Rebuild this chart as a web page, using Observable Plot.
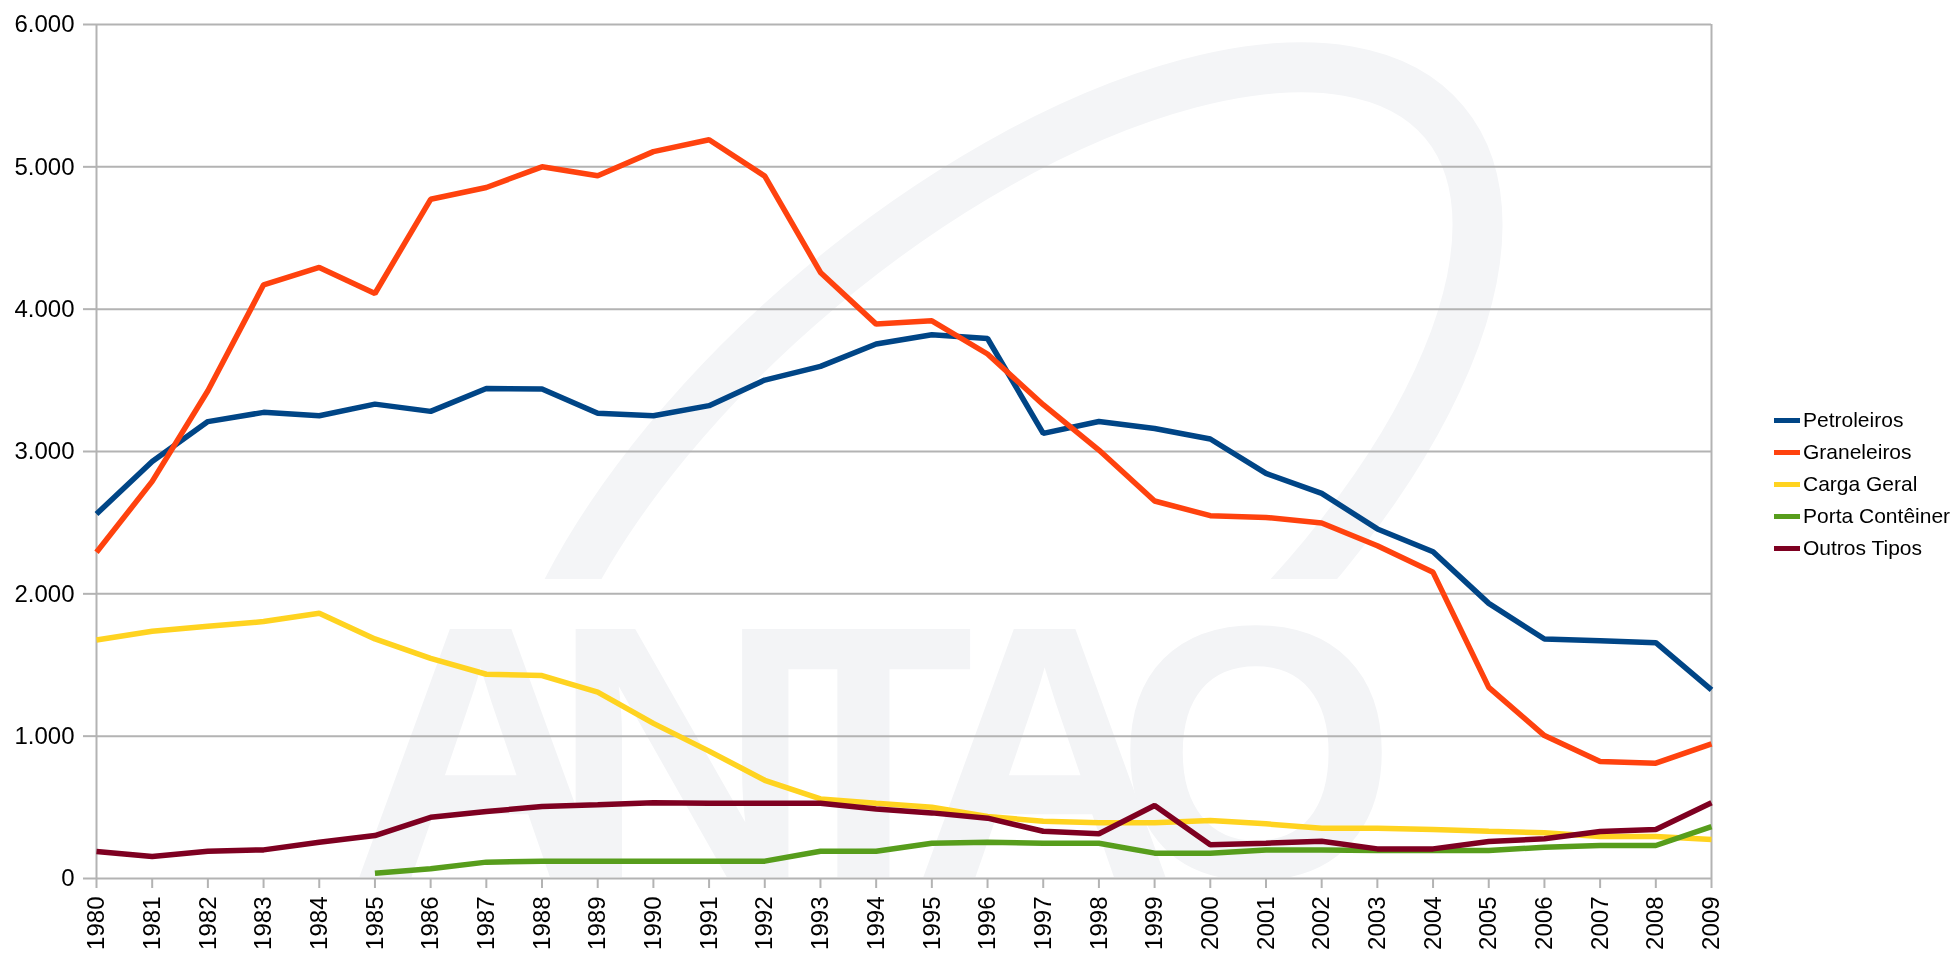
<!DOCTYPE html>
<html>
<head>
<meta charset="utf-8">
<script src="https://cdn.jsdelivr.net/npm/d3@7"></script>
<script src="https://cdn.jsdelivr.net/npm/@observablehq/plot@0.6"></script>
<style>
  html, body { margin: 0; padding: 0; background: #fff; }
  #wrap { position: relative; width: 1953px; height: 953px; overflow: hidden; font-family: "Liberation Sans", Arial, sans-serif; }
  #wm { position: absolute; left: 0; top: 0; z-index: 0; }
  #chart { position: absolute; left: 0; top: 0; z-index: 1; }
  #legend { position: absolute; left: 1774px; top: 404px; z-index: 2; font-size: 21px; color: #000; }
  .row { display: flex; align-items: center; height: 32px; white-space: nowrap; }
  .sw { width: 26px; height: 5px; margin-right: 3px; }
</style>
</head>
<body>
<div id="wrap">
  <canvas id="wm" width="1953" height="877"></canvas>
  <div id="chart"></div>
  <div id="legend"></div>
</div>
<script>
const years = [1980, 1981, 1982, 1983, 1984, 1985, 1986, 1987, 1988, 1989, 1990, 1991, 1992, 1993, 1994, 1995, 1996, 1997, 1998, 1999, 2000, 2001, 2002, 2003, 2004, 2005, 2006, 2007, 2008, 2009];
const seriesNames = ["Petroleiros", "Graneleiros", "Carga Geral", "Porta Contêiner", "Outros Tipos"];
const seriesColors = ["#004586", "#ff420e", "#ffd320", "#579d1c", "#7e0021"];
const yTicks = [0, 1000, 2000, 3000, 4000, 5000, 6000];

const petroleiros = [2561, 2930, 3210, 3275, 3251, 3333, 3282, 3443, 3439, 3268, 3251, 3322, 3502, 3598, 3755, 3820, 3794, 3127, 3211, 3162, 3088, 2846, 2706, 2456, 2296, 1933, 1683, 1671, 1657, 1325];
const graneleiros = [2292, 2790, 3427, 4171, 4293, 4110, 4772, 4855, 5000, 4937, 5107, 5190, 4935, 4258, 3895, 3918, 3685, 3329, 3010, 2652, 2549, 2537, 2498, 2338, 2151, 1343, 1004, 822, 810, 946];
const cargaGeral = [1676, 1737, 1772, 1805, 1863, 1683, 1547, 1435, 1426, 1309, 1090, 895, 690, 559, 529, 501, 435, 403, 391, 391, 407, 384, 353, 353, 344, 332, 321, 295, 295, 274];
const portaConteiner = [null, null, null, null, null, 37, 68, 115, 122, 122, 122, 122, 122, 192, 192, 248, 255, 248, 248, 178, 178, 201, 201, 197, 197, 197, 220, 232, 232, 365];
const outrosTipos = [190, 154, 192, 201, 255, 302, 430, 470, 506, 518, 532, 529, 529, 529, 489, 461, 424, 332, 314, 513, 237, 248, 262, 208, 208, 260, 279, 330, 344, 532];

const valuesBySeries = [petroleiros, graneleiros, cargaGeral, portaConteiner, outrosTipos];
const data = [];
seriesNames.forEach((name, i) => {
  years.forEach((yr, j) => {
    data.push({ series: name, year: yr, value: valuesBySeries[i][j] });
  });
});

// faint background logo (decorative bitmap, like the watermark image of the original)
(function drawWatermark() {
  const cv = document.getElementById("wm");
  const ctx = cv.getContext("2d");
  ctx.fillStyle = "#f3f4f6";
  ctx.strokeStyle = "#f4f5f7";
  ctx.save();
  ctx.beginPath();
  ctx.rect(0, 0, 1953, 579);
  ctx.clip();
  ctx.lineWidth = 50;
  ctx.beginPath();
  ctx.ellipse(996, 498, 585, 274, -0.698, 0, Math.PI * 2);
  ctx.stroke();
  ctx.restore();
  ctx.font = "bold 362px 'Liberation Sans', Arial, sans-serif";
  ctx.textBaseline = "alphabetic";
  let x = 350;
  for (const ch of "ANTAQ") {
    ctx.fillText(ch, x, 878);
    x += ctx.measureText(ch).width - 60;
  }
})();

const ptBR = d3.formatLocale({ decimal: ",", thousands: ".", grouping: [3], currency: ["R$", ""] });
const fmt = ptBR.format(",");

const chart = Plot.plot({
  width: 1953,
  height: 953,
  marginLeft: 96,
  marginRight: 242,
  marginTop: 24,
  marginBottom: 75,
  style: { fontFamily: "'Liberation Sans', Arial, sans-serif", fontSize: "24px", color: "#000", background: "transparent", overflow: "visible" },
  x: { domain: [1980, 2009] },
  y: { domain: [0, 6000] },
  color: { domain: seriesNames, range: seriesColors },
  marks: [
    Plot.gridY(yTicks, { stroke: "#b3b3b3", strokeOpacity: 1, strokeWidth: 2 }),
    Plot.ruleX([1980, 2009], { stroke: "#b3b3b3", strokeWidth: 2 }),
    Plot.axisY(yTicks, { tickSize: 13, tickPadding: 9, tickFormat: fmt, stroke: "#b3b3b3", strokeWidth: 2, fill: "#000", label: null }),
    Plot.axisX(years, { tickRotate: -90, tickSize: 10, tickPadding: 8, tickFormat: d => String(d), stroke: "#b3b3b3", strokeWidth: 2, fill: "#000", label: null }),
    Plot.line(data, { x: "year", y: "value", z: "series", stroke: "series", strokeWidth: 5.5, strokeLinejoin: "miter", strokeLinecap: "butt" })
  ]
});
document.getElementById("chart").appendChild(chart);

const legend = document.getElementById("legend");
seriesNames.forEach((name, i) => {
  const row = document.createElement("div");
  row.className = "row";
  const sw = document.createElement("span");
  sw.className = "sw";
  sw.style.background = seriesColors[i];
  const t = document.createElement("span");
  t.textContent = name;
  row.appendChild(sw);
  row.appendChild(t);
  legend.appendChild(row);
});
</script>
</body>
</html>
